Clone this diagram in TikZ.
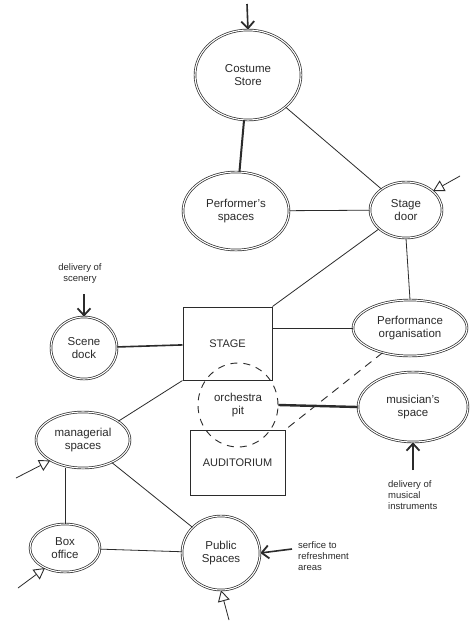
\documentclass[tikz,border=0pt]{standalone}
\usepackage{fontspec}
\setmainfont{Liberation Sans}
\usetikzlibrary{shapes.geometric,arrows.meta}
\definecolor{ink}{HTML}{2B2B2B}
\tikzset{
  room/.style={ellipse, draw=ink, line width=0.7pt, double=white, double distance=1.1pt, inner sep=0pt, align=center, font=\fontsize{11.5}{13}\selectfont, text=ink},
  boxroom/.style={rectangle, draw=ink, line width=1pt, inner sep=0pt, font=\fontsize{11}{12}\selectfont, text=ink},
  pitroom/.style={ellipse, draw=ink, dashed, dash pattern=on 7pt off 6pt, line width=0.9pt, inner sep=0pt, align=center, font=\fontsize{11.5}{13}\selectfont, text=ink},
  link/.style={draw=ink, line width=0.8pt},
  heavy/.style={draw=ink, line width=2pt},
  dlink/.style={draw=ink, line width=0.9pt, dash pattern=on 8pt off 6pt},
  inarrow/.style={draw=ink, line width=1.6pt, -{Straight Barb[length=7pt,width=13pt,line width=1.8pt]}},
  openarrow/.style={draw=ink, line width=0.8pt, -{Triangle[open,length=11pt,width=12pt,line width=0.9pt]}},
  note/.style={align=left, font=\fontsize{9.5}{11}\selectfont, text=ink, inner sep=0pt}
}
\begin{document}
\begin{tikzpicture}[x=1pt,y=-1pt]
\useasboundingbox[fill=white] (0,0) rectangle (473,632);

% rooms
\node[room, minimum width=106pt, minimum height=90pt] (costume) at (248,75) {Costume\\Store};
\node[room, minimum width=106pt, minimum height=78pt] (performer) at (236,211) {Performer's\\spaces};
\node[room, minimum width=72pt, minimum height=56pt] (stagedoor) at (406,210) {Stage\\door};
\node[room, minimum width=66pt, minimum height=62pt] (scene) at (84,348) {Scene\\dock};
\node[boxroom, minimum width=89pt, minimum height=73pt] (stage) at (227.5,343.5) {STAGE};
\node[room, minimum width=114pt, minimum height=56pt] (perforg) at (410,328) {Performance\\organisation};
\node[pitroom, minimum width=80pt, minimum height=84pt] (pit) at (238,405) {orchestra\\pit};
\node[room, minimum width=110pt, minimum height=70pt] (musician) at (413,407) {musician's\\space};
\node[boxroom, minimum width=95pt, minimum height=65pt] (aud) at (237.5,462.5) {AUDITORIUM};
\node[room, minimum width=94pt, minimum height=56pt] (managerial) at (83,440) {managerial\\spaces};
\node[room, minimum width=70pt, minimum height=48pt] (box) at (65,548) {Box\\office};
\node[room, minimum width=78pt, minimum height=74pt] (public) at (221,553) {Public\\Spaces};

% notes
\node[note, align=center] (scenerynote) at (80,274) {delivery of\\scenery};
\node[note, anchor=north west] (musicnote) at (388,480) {delivery of\\musical\\instruments};
\node[note, anchor=north west] (servicenote) at (298,541) {serfice to\\refreshment\\areas};

% connectors
\draw[heavy] (costume) -- (performer);
\draw[link] (costume) -- (stagedoor);
\draw[link] (performer) -- (stagedoor);
\draw[link] (stagedoor.215) -- (stage.north east);
\draw[link] (stagedoor.south) -- (perforg.north);
\draw[heavy, line width=1.6pt] (scene) -- (stage);
\draw[link] (stage.east |- perforg.west) -- (perforg.west);
\draw[heavy, line width=2.4pt] (pit.east) -- (musician.west);
\draw[dlink] (perforg.222) -- (aud.north east);
\draw[link] (managerial.28) -- (stage.south west);
\draw[link] (managerial.-38) -- (public.138);
\draw[link] (box.north |- managerial.south) -- (box.north);
\draw[link] (box) -- (public);

% entry arrows
\coordinate (costumein) at (247,4);
\draw[inarrow] (costumein) -- (costume.north);
\coordinate (scenein) at (84,294);
\draw[inarrow] (scenein) -- (scene.north);
\coordinate (musicin) at (413,470);
\draw[inarrow] (musicin) -- (musician.south);
\coordinate (servicein) at (292,549);
\draw[inarrow] (servicein) -- (public.east);
\coordinate (publicin) at (229,620);
\draw[openarrow] (publicin) -- (public.south);
\coordinate (doorin) at (460,176);
\draw[openarrow] (doorin) -- (stagedoor.35);
\coordinate (managerin) at (16,478);
\draw[openarrow] (managerin) -- (managerial.212);
\coordinate (boxin) at (18,588);
\draw[openarrow] (boxin) -- (box.225);
\end{tikzpicture}
\end{document}
